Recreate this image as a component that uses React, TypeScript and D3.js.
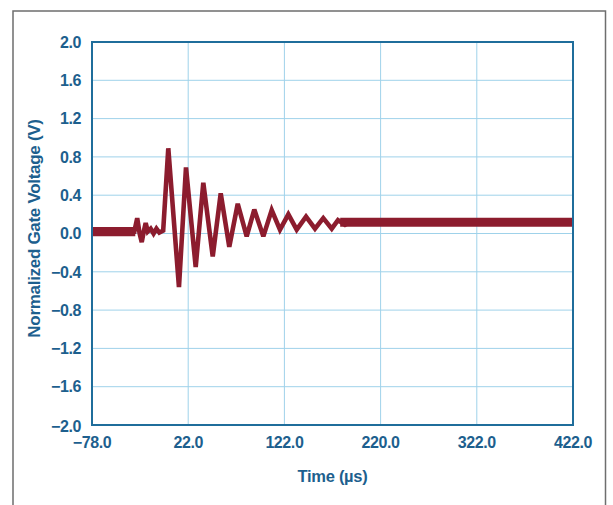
import React from "react";
import * as d3 from "d3";

// ---- data ----
const xTickValues = [-78, 22, 122, 222, 322, 422];
const xTickLabels = ["\u221278.0", "22.0", "122.0", "220.0", "322.0", "422.0"];
const yTickValues = [2.0, 1.6, 1.2, 0.8, 0.4, 0.0, -0.4, -0.8, -1.2, -1.6, -2.0];
const yTickLabels = ["2.0", "1.6", "1.2", "0.8", "0.4", "0.0", "\u22120.4", "\u22120.8", "\u22121.2", "\u22121.6", "\u22122.0"];

// gate voltage waveform [time µs, volts]
const waveTime = [-78, -34, -31, -28.5, -26.3, -24, -22.2, -20, -17, -14, -11, -8, -4, 1.3, 12.4, 19.7, 29.8, 37.7, 47.5, 55.8, 64.7, 73.5, 82.8, 90.7, 100.1, 108.8, 117.4, 126.1, 134.8, 144.5, 153.8, 162.4, 171.2, 177.7, 185, 192, 200, 422];
const waveVolt = [0.02, 0.02, 0.16, 0.0, -0.09, 0.03, 0.11, 0.02, 0.05, 0.0, 0.05, 0.01, 0.03, 0.89, -0.56, 0.69, -0.35, 0.53, -0.24, 0.42, -0.14, 0.31, -0.03, 0.25, -0.03, 0.245, 0.04, 0.2, 0.04, 0.175, 0.05, 0.16, 0.05, 0.14, 0.09, 0.13, 0.12, 0.12];

// noise envelope bands on the flat segments [time, low, high]
const bandLeftTime = [-78, -33];
const bandLeftLow = [-0.028, -0.028];
const bandLeftHigh = [0.068, 0.068];
const bandRightTime = [180, 422];
const bandRightLow = [0.07, 0.07];
const bandRightHigh = [0.165, 0.165];

export default function App() {
  const W = 613, H = 505;
  const left = 92, right = 573, top = 42, bottom = 425;
  const x = d3.scaleLinear().domain([-78, 422]).range([left, right]);
  const y = d3.scaleLinear().domain([-2, 2]).range([bottom, top]);

  const textColor = "#1d5f8e";
  const borderColor = "#1f6d9b";
  const gridColor = "#9fd2ea";
  const waveColor = "#8c1c2e";
  const font = "'Liberation Sans', Arial, Helvetica, sans-serif";

  const wavePts: [number, number][] = waveTime.map((t, i) => [t, waveVolt[i]]);
  const line = d3.line<[number, number]>().x(d => x(d[0])).y(d => y(d[1]));

  const bandPath = (ts: number[], lo: number[], hi: number[]) =>
    d3.area<number>()
      .x((_, i) => x(ts[i]))
      .y0((_, i) => y(lo[i]))
      .y1((_, i) => y(hi[i]))(ts.map((_, i) => i)) || "";

  return (
    <svg width={W} height={H} style={{ position: "absolute", left: 0, top: 0, background: "#fff" }}>
      <rect x={13} y={11} width={592.5} height={510} fill="#fff" stroke="#6e6e6e" strokeWidth={1.5} />
      {/* grid */}
      {yTickValues.map((v, i) => (
        <line key={"gy" + i} x1={left} x2={right} y1={y(v)} y2={y(v)} stroke={gridColor} strokeWidth={1} />
      ))}
      {xTickValues.map((v, i) => (
        <line key={"gx" + i} x1={x(v)} x2={x(v)} y1={top} y2={bottom} stroke={gridColor} strokeWidth={1} />
      ))}
      {/* waveform */}
      <path d={bandPath(bandLeftTime, bandLeftLow, bandLeftHigh)} fill={waveColor} />
      <path d={bandPath(bandRightTime, bandRightLow, bandRightHigh)} fill={waveColor} />
      <path d={line(wavePts) || ""} fill="none" stroke={waveColor} strokeWidth={4.6} strokeLinejoin="miter" strokeMiterlimit={3} />
      {/* plot border */}
      <rect x={left} y={top} width={right - left} height={bottom - top} fill="none" stroke={borderColor} strokeWidth={2} />
      {/* y tick labels */}
      {yTickValues.map((v, i) => (
        <text key={"ty" + i} x={81} y={y(v) + (i === yTickValues.length - 1 ? 1 : 0)} dy="0.36em" textAnchor="end"
          fontFamily={font} fontWeight="bold" fontSize={16} letterSpacing={-0.4} fill={textColor}>
          {yTickLabels[i]}
        </text>
      ))}
      {/* x tick labels */}
      {xTickValues.map((v, i) => (
        <text key={"tx" + i} x={x(v)} y={442} dy="0.36em" textAnchor="middle"
          fontFamily={font} fontWeight="bold" fontSize={16} letterSpacing={-0.4} fill={textColor}>
          {xTickLabels[i]}
        </text>
      ))}
      <text x={(left + right) / 2} y={476} dy="0.36em" textAnchor="middle" fontFamily={font} fontWeight="bold"
        fontSize={16.5} letterSpacing={-0.3} fill={textColor}>Time (µs)</text>
      <text transform={`translate(34, ${(top + bottom) / 2 - 5}) rotate(-90)`} dy="0.36em" textAnchor="middle"
        fontFamily={font} fontWeight="bold" fontSize={17} letterSpacing={-0.3} fill={textColor}>
        Normalized Gate Voltage (V)
      </text>
    </svg>
  );
}
